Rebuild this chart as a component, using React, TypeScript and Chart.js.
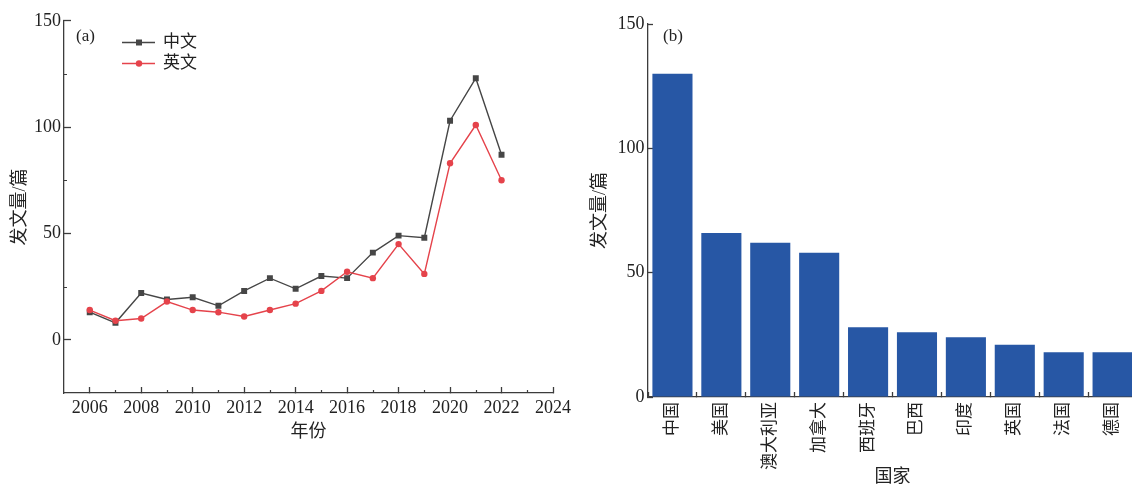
import React, { useEffect, useRef } from 'react';
import { Chart, registerables } from 'chart.js';

Chart.register(...registerables);

// ---------- data ----------
const years = [2006, 2007, 2008, 2009, 2010, 2011, 2012, 2013, 2014, 2015, 2016, 2017, 2018, 2019, 2020, 2021, 2022];
const chineseCounts = [13, 8, 22, 19, 20, 16, 23, 29, 24, 30, 29, 41, 49, 48, 103, 123, 87];
const englishCounts = [14, 9, 10, 18, 14, 13, 11, 14, 17, 23, 32, 29, 45, 31, 83, 101, 75];
const yearTicks = [2006, 2008, 2010, 2012, 2014, 2016, 2018, 2020, 2022, 2024];
const yearMinorTicks = [2007, 2009, 2011, 2013, 2015, 2017, 2019, 2021, 2023];
const leftCountTicks = [0, 50, 100, 150];
const leftCountMinorTicks = [25, 75, 125];

const countries = ['中国', '美国', '澳大利亚', '加拿大', '西班牙', '巴西', '印度', '英国', '法国', '德国'];
const countryCounts = [130, 66, 62, 58, 28, 26, 24, 21, 18, 18];
const rightCountTicks = [0, 50, 100, 150];

// ---------- styles ----------
const FONT = "'Liberation Serif', 'Noto Sans CJK SC', serif";
const AXIS = '#3c3c3c';
const TEXT = '#222222';
const DARK = '#464646';
const RED = '#E5434B';
const BLUE = '#2757A5';

const minorTicksPlugin = {
  id: 'minorTicks',
  afterDraw(chart: any) {
    const { ctx } = chart;
    const xs = chart.scales.x;
    const ys = chart.scales.y;
    ctx.save();
    ctx.strokeStyle = AXIS;
    ctx.lineWidth = 1.2;
    ctx.beginPath();
    yearMinorTicks.forEach((v) => {
      const px = Math.round(xs.getPixelForValue(v)) + 0.5;
      ctx.moveTo(px, ys.bottom);
      ctx.lineTo(px, ys.bottom - 3);
    });
    leftCountMinorTicks.forEach((v) => {
      const py = Math.round(ys.getPixelForValue(v)) + 0.5;
      ctx.moveTo(xs.left, py);
      ctx.lineTo(xs.left + 3, py);
    });
    ctx.stroke();
    ctx.restore();
  },
};

const leftDecorPlugin = {
  id: 'leftDecor',
  afterDraw(chart: any) {
    const { ctx } = chart;
    ctx.save();
    ctx.font = `17px ${FONT}`;
    ctx.fillStyle = TEXT;
    ctx.textBaseline = 'middle';
    ctx.textAlign = 'left';
    ctx.fillText('(a)', 76, 37);
    chart.data.datasets.forEach((ds: any, i: number) => {
      const y = 42.5 + i * 21;
      ctx.strokeStyle = ds.borderColor;
      ctx.lineWidth = 1.4;
      ctx.beginPath();
      ctx.moveTo(122, y);
      ctx.lineTo(155, y);
      ctx.stroke();
      ctx.fillStyle = ds.backgroundColor;
      ctx.beginPath();
      if (ds.pointStyle === 'rect') {
        ctx.rect(139 - 3, y - 3, 6, 6);
      } else {
        ctx.arc(139, y, 3.2, 0, Math.PI * 2);
      }
      ctx.fill();
      ctx.fillStyle = TEXT;
      ctx.font = `17px ${FONT}`;
      ctx.fillText(ds.label, 163, y);
    });
    ctx.restore();
  },
};

const rightDecorPlugin = {
  id: 'rightDecor',
  afterDraw(chart: any) {
    const { ctx } = chart;
    ctx.save();
    ctx.font = `17px ${FONT}`;
    ctx.fillStyle = TEXT;
    ctx.textBaseline = 'middle';
    ctx.textAlign = 'left';
    ctx.fillText('(b)', 88, 37);
    ctx.restore();
  },
};

function LeftChart() {
  const ref = useRef<HTMLCanvasElement | null>(null);
  useEffect(() => {
    if (!ref.current) return;
    const chart = new Chart(ref.current, {
      type: 'line',
      data: {
        datasets: [
          {
            label: '中文',
            data: years.map((y, i) => ({ x: y, y: chineseCounts[i] })),
            borderColor: DARK,
            backgroundColor: DARK,
            pointStyle: 'rect',
            pointRadius: 4.2,
            pointBorderWidth: 0,
            borderWidth: 1.4,
            tension: 0,
            order: 1,
          },
          {
            label: '英文',
            data: years.map((y, i) => ({ x: y, y: englishCounts[i] })),
            borderColor: RED,
            backgroundColor: RED,
            pointStyle: 'circle',
            pointRadius: 3.2,
            pointBorderWidth: 0,
            borderWidth: 1.4,
            tension: 0,
            order: 0,
          },
        ],
      } as any,
      options: {
        responsive: false,
        animation: false,
        layout: { padding: { left: 0, top: 19, right: 15, bottom: 0 } },
        plugins: { legend: { display: false }, tooltip: { enabled: false } },
        scales: {
          x: {
            type: 'linear',
            min: 2005,
            max: 2024,
            afterBuildTicks: (s: any) => {
              s.ticks = yearTicks.map((v) => ({ value: v }));
            },
            afterFit: (s: any) => {
              s.height = 95;
            },
            ticks: {
              font: { family: FONT, size: 18 },
              color: TEXT,
              padding: 10,
              maxRotation: 0,
              autoSkip: false,
              callback: (v: any) => String(v),
            },
            grid: { drawOnChartArea: false, tickLength: -6, tickColor: AXIS, tickWidth: 1.3 },
            border: { display: true, color: AXIS, width: 1.3 },
            title: {
              display: true,
              text: '年份',
              font: { family: FONT, size: 18 },
              color: TEXT,
              padding: { top: 0, bottom: 45 },
            },
          },
          y: {
            min: -25,
            max: 150,
            afterBuildTicks: (s: any) => {
              s.ticks = leftCountTicks.map((v) => ({ value: v }));
            },
            afterFit: (s: any) => {
              s.width = 64;
            },
            ticks: {
              font: { family: FONT, size: 18 },
              color: TEXT,
              padding: 10,
              callback: (v: any) => String(v),
            },
            grid: { drawOnChartArea: false, tickLength: -7, tickColor: AXIS, tickWidth: 1.3 },
            border: { display: true, color: AXIS, width: 1.3 },
            title: {
              display: true,
              text: '发文量/篇',
              font: { family: FONT, size: 18 },
              color: TEXT,
              padding: { top: 9, bottom: 0 },
            },
          },
        },
      } as any,
      plugins: [minorTicksPlugin, leftDecorPlugin],
    });
    return () => chart.destroy();
  }, []);
  return <canvas ref={ref} width={581} height={488} style={{ position: 'absolute', left: 0, top: 0 }} />;
}

function RightChart() {
  const ref = useRef<HTMLCanvasElement | null>(null);
  useEffect(() => {
    if (!ref.current) return;
    const chart = new Chart(ref.current, {
      type: 'bar',
      data: {
        labels: countries,
        datasets: [
          {
            label: '发文量',
            data: countryCounts,
            backgroundColor: BLUE,
            barPercentage: 0.82,
            categoryPercentage: 1,
          },
        ],
      },
      options: {
        responsive: false,
        animation: false,
        layout: { padding: { left: 0, top: 24, right: 0, bottom: 0 } },
        plugins: { legend: { display: false }, tooltip: { enabled: false } },
        scales: {
          x: {
            afterFit: (s: any) => {
              s.height = 91;
            },
            ticks: {
              font: { family: FONT, size: 17 },
              color: TEXT,
              padding: 10,
              maxRotation: 90,
              minRotation: 90,
              autoSkip: false,
            },
            grid: { drawOnChartArea: false, offset: true, tickLength: -5, tickColor: AXIS, tickWidth: 1.3 },
            border: { display: true, color: AXIS, width: 1.3 },
            title: {
              display: true,
              text: '国家',
              font: { family: FONT, size: 18 },
              color: TEXT,
              padding: { top: 0, bottom: 0 },
            },
          },
          y: {
            min: 0,
            max: 150,
            afterBuildTicks: (s: any) => {
              s.ticks = rightCountTicks.map((v) => ({ value: v }));
            },
            afterFit: (s: any) => {
              s.width = 73;
            },
            ticks: {
              font: { family: FONT, size: 18 },
              color: TEXT,
              padding: 8.5,
              callback: (v: any) => String(v),
            },
            grid: { drawOnChartArea: false, tickLength: -5, tickColor: AXIS, tickWidth: 1.3 },
            border: { display: true, color: AXIS, width: 1.3 },
            title: {
              display: true,
              text: '发文量/篇',
              font: { family: FONT, size: 18 },
              color: TEXT,
              padding: { top: 14, bottom: 0 },
            },
          },
        },
      } as any,
      plugins: [rightDecorPlugin],
    });
    return () => chart.destroy();
  }, []);
  return <canvas ref={ref} width={568} height={488} style={{ position: 'absolute', left: 575, top: 0 }} />;
}

export default function App() {
  return (
    <div
      style={{
        position: 'fixed',
        left: 0,
        top: 0,
        width: 1132,
        height: 488,
        overflow: 'hidden',
        background: '#ffffff',
      }}
    >
      <LeftChart />
      <RightChart />
    </div>
  );
}
